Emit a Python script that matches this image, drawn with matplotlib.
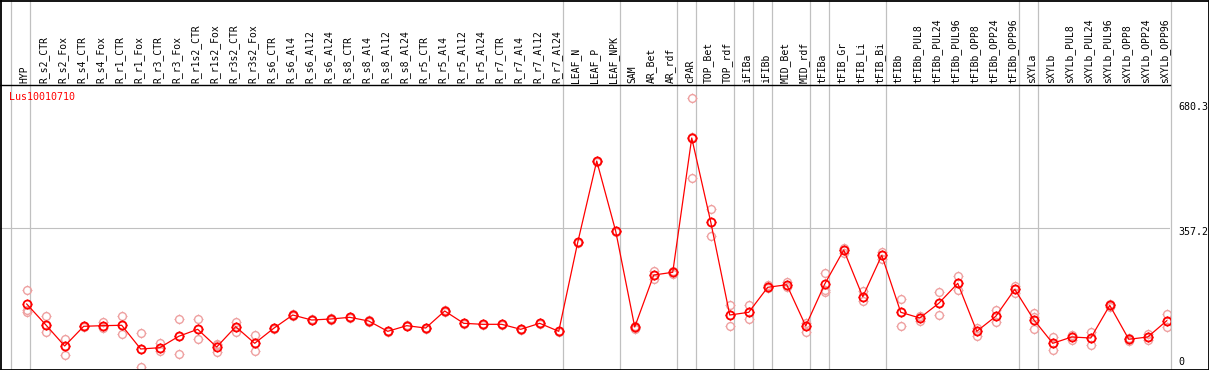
import matplotlib
matplotlib.use("Agg")
import matplotlib.pyplot as plt
from matplotlib.lines import Line2D
from matplotlib.path import Path
import matplotlib.transforms as mtransforms

# ---------------- data ----------------
gene = "Lus10010710"
categories = [
    "HYP", "R_s2_CTR", "R_s2_Fox", "R_s4_CTR", "R_s4_Fox", "R_r1_CTR", "R_r1_Fox",
    "R_r3_CTR", "R_r3_Fox", "R_r1s2_CTR", "R_r1s2_Fox", "R_r3s2_CTR", "R_r3s2_Fox",
    "R_s6_CTR", "R_s6_Al4", "R_s6_Al12", "R_s6_Al24", "R_s8_CTR", "R_s8_Al4",
    "R_s8_Al12", "R_s8_Al24", "R_r5_CTR", "R_r5_Al4", "R_r5_Al12", "R_r5_Al24",
    "R_r7_CTR", "R_r7_Al4", "R_r7_Al12", "R_r7_Al24", "LEAF_N", "LEAF_P", "LEAF_NPK",
    "SAM", "AR_Bet", "AR_rdf", "cPAR", "TOP_Bet", "TOP_rdf", "iFIBa", "iFIBb",
    "MID_Bet", "MID_rdf", "tFIBa", "tFIB_Gr", "tFIB_Li", "tFIB_Bi", "tFIBb",
    "tFIBb_PUL8", "tFIBb_PUL24", "tFIBb_PUL96", "tFIBb_OPP8", "tFIBb_OPP24",
    "tFIBb_OPP96", "sXYLa", "sXYLb", "sXYLb_PUL8", "sXYLb_PUL24", "sXYLb_PUL96",
    "sXYLb_OPP8", "sXYLb_OPP24", "sXYLb_OPP96",
]

mean_values = [
    169.0, 117.5, 64.6, 113.6, 115.1, 116.1, 57.2, 60.4, 88.7, 106.1,
    62.1, 112.6, 71.3, 108.6, 141.6, 129.2, 131.7, 135.9, 126.7, 101.1,
    115.1, 109.3, 151.6, 121.0, 118.5, 118.5, 106.1, 121.0, 101.1, 322.3,
    524.3, 349.6, 111.8, 241.0, 247.8, 581.5, 372.8, 141.6, 148.4, 210.5,
    216.9, 114.3, 218.7, 303.2, 187.1, 290.0, 148.4, 134.2, 170.7, 220.4,
    101.1, 138.4, 205.5, 130.0, 71.3, 87.0, 84.5, 165.7, 81.3, 87.0,
    127.5,
]

rep1 = [
    203.0, 138.4, 81.3, 114.3, 124.3, 138.4, 96.2, 72.8, 131.0, 131.0,
    70.3, 125.0, 91.2, 110.0, 143.0, 130.5, 133.0, 137.0, 128.0, 102.5,
    116.5, 110.5, 153.0, 122.5, 120.0, 120.0, 107.5, 122.5, 102.5, 323.5,
    525.5, 351.0, 115.1, 251.0, 251.7, 680.3, 405.1, 166.5, 166.5, 215.5,
    224.4, 100.1, 246.0, 308.9, 202.0, 297.5, 180.7, 139.2, 198.1, 237.8,
    108.6, 154.1, 213.7, 147.4, 87.7, 92.7, 98.7, 168.2, 83.7, 94.4,
    144.1,
]
rep2 = [
    154.1, 98.7, 43.0, 111.8, 108.6, 93.7, 13.2, 52.2, 45.5, 81.3,
    50.4, 99.4, 51.4, 107.2, 140.2, 128.0, 130.4, 134.8, 125.4, 99.8,
    113.8, 108.0, 150.2, 119.6, 117.0, 117.0, 104.8, 119.6, 99.8, 321.0,
    523.0, 348.2, 106.1, 231.1, 243.5, 481.3, 338.0, 115.1, 131.0, 208.0,
    211.2, 121.0, 203.8, 296.5, 177.2, 280.1, 115.1, 127.5, 142.4, 203.0,
    90.2, 123.5, 197.1, 106.1, 55.4, 79.5, 67.8, 162.3, 77.8, 78.8,
    111.8,
]
rep3 = [
    149.1, 117.5, 64.6, 115.1, 115.1, 116.1, 57.2, 59.6, 88.7, 106.1,
    65.9, 112.6, 71.3, 108.6, 141.6, 129.2, 131.7, 135.9, 126.7, 101.1,
    115.1, 109.3, 151.6, 121.0, 118.5, 118.5, 106.1, 121.0, 101.1, 322.3,
    524.3, 349.6, 108.6, 241.0, 247.8, 582.9, 372.8, 141.6, 148.4, 210.5,
    216.9, 114.3, 198.1, 303.2, 187.1, 290.0, 148.4, 134.2, 170.7, 220.4,
    101.1, 138.4, 205.5, 136.5, 71.3, 87.0, 84.5, 165.7, 81.3, 87.0,
    127.5,
]

# last category index of each group (separator drawn after it)
group_ends = [-1, 0, 28, 31, 34, 35, 37, 38, 39, 41, 42, 45, 52, 53, 60]

y_tick_labels = ["680.3", "357.2", "0"]
grid_value = 357.2

# ---------------- figure ----------------
W, H = 1209, 370
fig = plt.figure(figsize=(W / 100, H / 100), dpi=100)
fig.patch.set_facecolor("white")

def px_x(p):
    return p / W

def px_y(p):
    return 1 - p / H

# plot region: x 0..1170 px, y 85..369 px
ax = fig.add_axes([px_x(0), px_y(369), px_x(1170), (369 - 85) / H])
ax.set_xlim(-1.405, 60.17)
ax.set_ylim(7.46, 713.2)
ax.set_facecolor("none")
for s in ["left", "right", "bottom"]:
    ax.spines[s].set_visible(False)
ax.spines["top"].set_color("black")
ax.spines["top"].set_linewidth(1.0)
ax.set_xticks([])
ax.set_yticks([])

RED = "#ff0000"
LIGHT = "#eea0a0"
GRAY = "#c0c0c0"
mono = "DejaVu Sans Mono"

# marker: four short outer ticks (spikes) around the circle
spikes = Path(
    [(0, 0.72), (0, 1.0), (0, -0.72), (0, -1.0),
     (0.72, 0), (1.0, 0), (-0.72, 0), (-1.0, 0)],
    [Path.MOVETO, Path.LINETO] * 4,
)

# gridline
ax.axhline(grid_value, color=GRAY, lw=0.8, zorder=1)

# separators (extend up through the label area)
top_ext = 369 / (369 - 85)
for g in group_ends:
    ax.axvline(g + 3.8 / 19.0, ymin=0, ymax=top_ext, color=GRAY, lw=0.9,
               clip_on=False, zorder=1)

x = list(range(len(categories)))

# replicate points
for reps in (rep1, rep2, rep3):
    ax.plot(x, reps, linestyle="none", marker="o", markersize=5.6,
            markerfacecolor="none", markeredgecolor=LIGHT, markeredgewidth=1.0,
            zorder=2)
    ax.plot(x, reps, linestyle="none", marker=spikes, markersize=7.6,
            markeredgecolor=LIGHT, markeredgewidth=0.8, zorder=2)

# mean line and markers
ax.plot(x, mean_values, color=RED, lw=0.9, zorder=3)
ax.plot(x, mean_values, linestyle="none", marker="o", markersize=5.8,
        markerfacecolor="none", markeredgecolor=RED, markeredgewidth=1.3, zorder=4)
ax.plot(x, mean_values, linestyle="none", marker=spikes, markersize=7.8,
        markeredgecolor=RED, markeredgewidth=0.9, zorder=4)

# category labels (rotated, above plot area)
trans = mtransforms.blended_transform_factory(ax.transData, ax.transAxes)
off = mtransforms.offset_copy(trans, fig=fig, x=-2.0, y=2.0, units="dots")
for i, c in enumerate(categories):
    ax.text(i, 1.0, c, rotation=90, ha="center", va="bottom",
            fontsize=7.0, family=mono, color="black", transform=off)

# gene name
fig.text(px_x(9), px_y(97), gene, color=RED, fontsize=7.2, family=mono,
         ha="left", va="center")

# right-side value labels
label_px_y = [107, 232, 362]
for lab, yy in zip(y_tick_labels, label_px_y):
    fig.text(px_x(1178), px_y(yy), lab, fontsize=7.2, family=mono,
             ha="left", va="center", color="black")

# outer frame
frame = [
    ((0.5, 0.5), (1208.5, 0.5)),
    ((0.5, 369.5), (1208.5, 369.5)),
    ((0.5, 0.5), (0.5, 369.5)),
    ((1208.5, 0.5), (1208.5, 369.5)),
]
for (x0, y0), (x1, y1) in frame:
    fig.add_artist(Line2D([px_x(x0), px_x(x1)], [px_y(y0), px_y(y1)],
                          color="black", lw=1.3, transform=fig.transFigure))

fig.savefig("out.png", dpi=100)
